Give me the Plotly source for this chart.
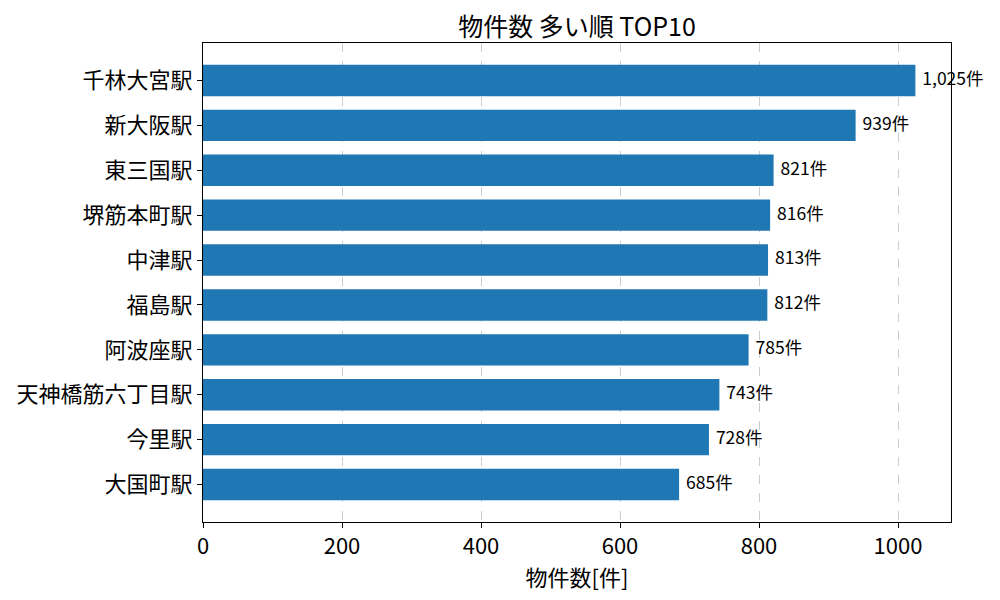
import plotly.graph_objects as go

stations = ["千林大宮駅", "新大阪駅", "東三国駅", "堺筋本町駅", "中津駅",
            "福島駅", "阿波座駅", "天神橋筋六丁目駅", "今里駅", "大国町駅"]
counts = [1025, 939, 821, 816, 813, 812, 785, 743, 728, 685]
labels = ["{:,}件".format(c) for c in counts]

FONT = "Noto Sans CJK JP"
BLUE = "#1f77b4"


def main():
    fig = go.Figure()
    fig.add_trace(go.Bar(
        x=counts, y=stations, orientation="h",
        marker=dict(color=BLUE, line=dict(width=0)),
        width=0.7, hoverinfo="skip",
    ))
    # value labels just to the right of each bar
    fig.add_trace(go.Scatter(
        x=[c + 10 for c in counts], y=stations, mode="text",
        text=labels, textposition="middle right",
        textfont=dict(family=FONT, size=17.5, color="black"),
        cliponaxis=False, hoverinfo="skip",
    ))

    # page body has an 8px margin, so margins are shifted to compensate
    fig.update_layout(
        width=1000, height=600,
        paper_bgcolor="white", plot_bgcolor="white",
        showlegend=False,
        font=dict(family=FONT, color="black"),
        margin=dict(l=195, r=57, t=35, b=86, autoexpand=False),
        title=dict(text="物件数 多い順 TOP10", x=0.569, xanchor="center",
                   xref="container", y=0.968, yref="container",
                   yanchor="middle", font=dict(size=25)),
        bargap=0.3,
    )
    fig.update_xaxes(
        range=[0, 1076.25], tickvals=[0, 200, 400, 600, 800, 1000],
        showgrid=True, gridcolor="#cccccc", griddash="dash", gridwidth=1,
        showline=True, linecolor="black", linewidth=1, mirror=True,
        ticks="outside", ticklen=5, tickcolor="black",
        tickfont=dict(size=22), zeroline=False,
        title=dict(text="物件数[件]", font=dict(size=22), standoff=4),
    )
    fig.update_yaxes(
        categoryorder="array", categoryarray=stations[::-1],
        range=[-0.835, 9.835],
        showgrid=False, showline=True, linecolor="black", linewidth=1,
        mirror=True, ticks="outside", ticklen=5, tickcolor="black",
        tickfont=dict(size=22), zeroline=False,
    )
    fig.write_html("out.html")


if __name__ == "__main__":
    main()
